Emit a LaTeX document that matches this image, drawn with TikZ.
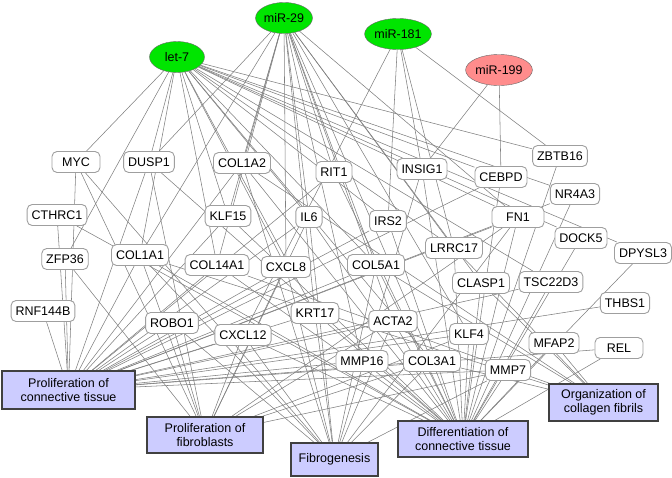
\documentclass[tikz,border=0pt]{standalone}
\usepackage{fontspec}
\setmainfont{Liberation Sans}
\usetikzlibrary{shapes.geometric}
\pgfdeclarelayer{bg}
\pgfsetlayers{bg,main}

\begin{document}
\begin{tikzpicture}[x=1pt, y=-1pt, font=\fontsize{12.5}{14.5}\selectfont,
		mirna/.style = {draw=gray!80!black, ellipse, fill=green!90!black, inner sep=0pt, minimum width=55, minimum height=31},
		gene/.style = {draw=gray!75, rounded corners=5pt, fill=white, line width=0.9pt, inner xsep=4.5pt, minimum height=21},
		func/.style = {draw=gray!50!black, fill=blue!20, line width=1.1pt, align=center, inner sep=2pt},
		link/.style = {draw=black!50, line width=0.55pt}]
		\useasboundingbox (0,0) rectangle (672,477);
		% microRNAs
		\node[mirna] (let7) at (177,57) {let-7};
		\node[mirna] (mir29) at (284,18) {miR-29};
		\node[mirna, minimum width=63] (mir181) at (398,34) {miR-181};
		\node[mirna, minimum width=61, fill=red!45!white] (mir199) at (499,70) {miR-199};
		% genes
		\node[gene, minimum width=48] (myc) at (76,162) {MYC};
		\node[gene] (dusp1) at (149,162) {DUSP1};
		\node[gene] (col1a2) at (242,163) {COL1A2};
		\node[gene] (rit1) at (334,172) {RIT1};
		\node[gene] (insig1) at (422,169) {INSIG1};
		\node[gene] (cebpd) at (501,177) {CEBPD};
		\node[gene] (zbtb16) at (560,156) {ZBTB16};
		\node[gene] (nr4a3) at (575,194) {NR4A3};
		\node[gene] (cthrc1) at (57,215) {CTHRC1};
		\node[gene] (klf15) at (228,216) {KLF15};
		\node[gene] (il6) at (309,217) {IL6};
		\node[gene] (irs2) at (388,221) {IRS2};
		\node[gene, minimum width=52] (fn1) at (518,217) {FN1};
		\node[gene] (dock5) at (581,238) {DOCK5};
		\node[gene] (dpysl3) at (643,253) {DPYSL3};
		\node[gene] (lrrc17) at (454,248) {LRRC17};
		\node[gene] (zfp36) at (65,259) {ZFP36};
		\node[gene] (col1a1) at (140,255) {COL1A1};
		\node[gene] (col14a1) at (217,265) {COL14A1};
		\node[gene] (cxcl8) at (286,267) {CXCL8};
		\node[gene] (col5a1) at (376,265) {COL5A1};
		\node[gene] (clasp1) at (481,283) {CLASP1};
		\node[gene] (tsc22d3) at (551,282) {TSC22D3};
		\node[gene] (thbs1) at (625,303) {THBS1};
		\node[gene] (rnf144b) at (43,311) {RNF144B};
		\node[gene] (robo1) at (172,323) {ROBO1};
		\node[gene] (cxcl12) at (243,335) {CXCL12};
		\node[gene] (krt17) at (315,313) {KRT17};
		\node[gene] (acta2) at (393,321) {ACTA2};
		\node[gene] (klf4) at (469,334) {KLF4};
		\node[gene] (mfap2) at (554,343) {MFAP2};
		\node[gene, minimum width=48] (rel) at (619,348) {REL};
		\node[gene] (mmp16) at (362,361) {MMP16};
		\node[gene] (col3a1) at (432,361) {COL3A1};
		\node[gene] (mmp7) at (508,370) {MMP7};
		% functions
		\node[func, minimum width=133, minimum height=38] (pct) at (68.5,390) {Proliferation of\\connective tissue};
		\node[func, minimum width=116, minimum height=36] (pf) at (205,435) {Proliferation of\\fibroblasts};
		\node[func, minimum width=87, minimum height=33] (fib) at (334.5,459.5) {Fibrogenesis};
		\node[func, minimum width=130, minimum height=36] (dct) at (463,439) {Differentiation of\\connective tissue};
		\node[func, minimum width=109, minimum height=37] (ocf) at (603.5,402.5) {Organization of\\collagen fibrils};
		\begin{pgfonlayer}{bg}
		% let-7 targets
		\draw[link] (let7) -- (myc);
		\draw[link] (let7) -- (zfp36);
		\draw[link] (let7) -- (dusp1);
		\draw[link] (let7) -- (col1a1);
		\draw[link] (let7) -- (klf15);
		\draw[link] (let7) -- (col14a1);
		\draw[link] (let7) -- (il6);
		\draw[link] (let7) -- (cxcl8);
		\draw[link] (let7) -- (krt17);
		\draw[link] (let7) -- (irs2);
		\draw[link] (let7) -- (zbtb16);
		\draw[link] (let7) -- (cebpd);
		\draw[link] (let7) -- (nr4a3);
		\draw[link] (let7) -- (fn1);
		\draw[link] (let7) -- (dock5);
		\draw[link] (let7) -- (lrrc17);
		\draw[link] (let7) -- (tsc22d3);
		\draw[link] (let7) -- (dpysl3);
		\draw[link] (let7) -- (col3a1);
		\draw[link] (let7) -- (col5a1);
		% miR-29 targets
		\draw[link] (mir29) -- (dusp1);
		\draw[link] (mir29) -- (col1a1);
		\draw[link] (mir29) -- (col1a2);
		\draw[link] (mir29) -- (klf15);
		\draw[link] (mir29) -- (col14a1);
		\draw[link] (mir29) -- (rit1);
		\draw[link] (mir29) -- (il6);
		\draw[link] (mir29) -- (cxcl8);
		\draw[link] (mir29) -- (krt17);
		\draw[link] (mir29) -- (col5a1);
		\draw[link] (mir29) -- (acta2);
		\draw[link] (mir29) -- (lrrc17);
		\draw[link] (mir29) -- (clasp1);
		\draw[link] (mir29) -- (col3a1);
		\draw[link] (mir29) -- (klf4);
		\draw[link] (mir29) -- (mmp16);
		\draw[link] (mir29) -- (fn1);
		% miR-181 targets
		\draw[link] (mir181) -- (cxcl12);
		\draw[link] (mir181) -- (irs2);
		\draw[link] (mir181) -- (insig1);
		\draw[link] (mir181) -- (lrrc17);
		\draw[link] (mir181) -- (zbtb16);
		% miR-199 targets
		\draw[link] (mir199) -- (insig1);
		\draw[link] (mir199) -- (cebpd);
		% genes to functions
		\draw[link] (myc) -- (pct);
		\draw[link] (myc) -- (pf);
		\draw[link] (myc) -- (fib);
		\draw[link] (cthrc1) -- (pct);
		\draw[link] (cthrc1) -- (dct);
		\draw[link] (zfp36) -- (pct);
		\draw[link] (zfp36) -- (pf);
		\draw[link] (rnf144b) -- (pct);
		\draw[link] (dusp1) -- (pct);
		\draw[link] (dusp1) -- (pf);
		\draw[link] (dusp1) -- (dct);
		\draw[link] (col1a1) -- (pct);
		\draw[link] (col1a1) -- (pf);
		\draw[link] (col1a1) -- (fib);
		\draw[link] (col1a1) -- (dct);
		\draw[link] (col1a1) -- (ocf);
		\draw[link] (col1a2) -- (pct);
		\draw[link] (col1a2) -- (fib);
		\draw[link] (col1a2) -- (dct);
		\draw[link] (col1a2) -- (ocf);
		\draw[link] (klf15) -- (pct);
		\draw[link] (klf15) -- (dct);
		\draw[link] (il6) -- (pct);
		\draw[link] (il6) -- (pf);
		\draw[link] (il6) -- (fib);
		\draw[link] (il6) -- (dct);
		\draw[link] (col14a1) -- (pct);
		\draw[link] (col14a1) -- (dct);
		\draw[link] (col14a1) -- (ocf);
		\draw[link] (cxcl8) -- (pct);
		\draw[link] (cxcl8) -- (pf);
		\draw[link] (cxcl8) -- (fib);
		\draw[link] (rit1) -- (pct);
		\draw[link] (rit1) -- (dct);
		\draw[link] (insig1) -- (dct);
		\draw[link] (insig1) -- (fib);
		\draw[link] (cebpd) -- (dct);
		\draw[link] (cebpd) -- (pct);
		\draw[link] (zbtb16) -- (dct);
		\draw[link] (nr4a3) -- (pct);
		\draw[link] (nr4a3) -- (dct);
		\draw[link] (fn1) -- (pct);
		\draw[link] (fn1) -- (pf);
		\draw[link] (fn1) -- (fib);
		\draw[link] (fn1) -- (dct);
		\draw[link] (irs2) -- (pct);
		\draw[link] (irs2) -- (dct);
		\draw[link] (lrrc17) -- (dct);
		\draw[link] (lrrc17) -- (ocf);
		\draw[link] (dock5) -- (dct);
		\draw[link] (dpysl3) -- (dct);
		\draw[link] (col5a1) -- (pct);
		\draw[link] (col5a1) -- (fib);
		\draw[link] (col5a1) -- (dct);
		\draw[link] (col5a1) -- (ocf);
		\draw[link] (clasp1) -- (dct);
		\draw[link] (clasp1) -- (ocf);
		\draw[link] (tsc22d3) -- (dct);
		\draw[link] (tsc22d3) -- (pct);
		\draw[link] (thbs1) -- (pct);
		\draw[link] (robo1) -- (pct);
		\draw[link] (robo1) -- (pf);
		\draw[link] (robo1) -- (fib);
		\draw[link] (cxcl12) -- (pct);
		\draw[link] (cxcl12) -- (pf);
		\draw[link] (cxcl12) -- (fib);
		\draw[link] (cxcl12) -- (dct);
		\draw[link] (krt17) -- (pct);
		\draw[link] (krt17) -- (fib);
		\draw[link] (krt17) -- (dct);
		\draw[link] (acta2) -- (pct);
		\draw[link] (acta2) -- (pf);
		\draw[link] (acta2) -- (fib);
		\draw[link] (acta2) -- (dct);
		\draw[link] (klf4) -- (pct);
		\draw[link] (klf4) -- (pf);
		\draw[link] (klf4) -- (dct);
		\draw[link] (mfap2) -- (dct);
		\draw[link] (mfap2) -- (ocf);
		\draw[link] (rel) -- (pct);
		\draw[link] (rel) -- (dct);
		\draw[link] (mmp16) -- (pct);
		\draw[link] (mmp16) -- (dct);
		\draw[link] (col3a1) -- (pct);
		\draw[link] (col3a1) -- (pf);
		\draw[link] (col3a1) -- (fib);
		\draw[link] (col3a1) -- (dct);
		\draw[link] (col3a1) -- (ocf);
		\draw[link] (mmp7) -- (pct);
		\draw[link] (mmp7) -- (pf);
		\draw[link] (mmp7) -- (fib);
		\draw[link] (mmp7) -- (dct);
		\end{pgfonlayer}
	\end{tikzpicture}
\end{document}
